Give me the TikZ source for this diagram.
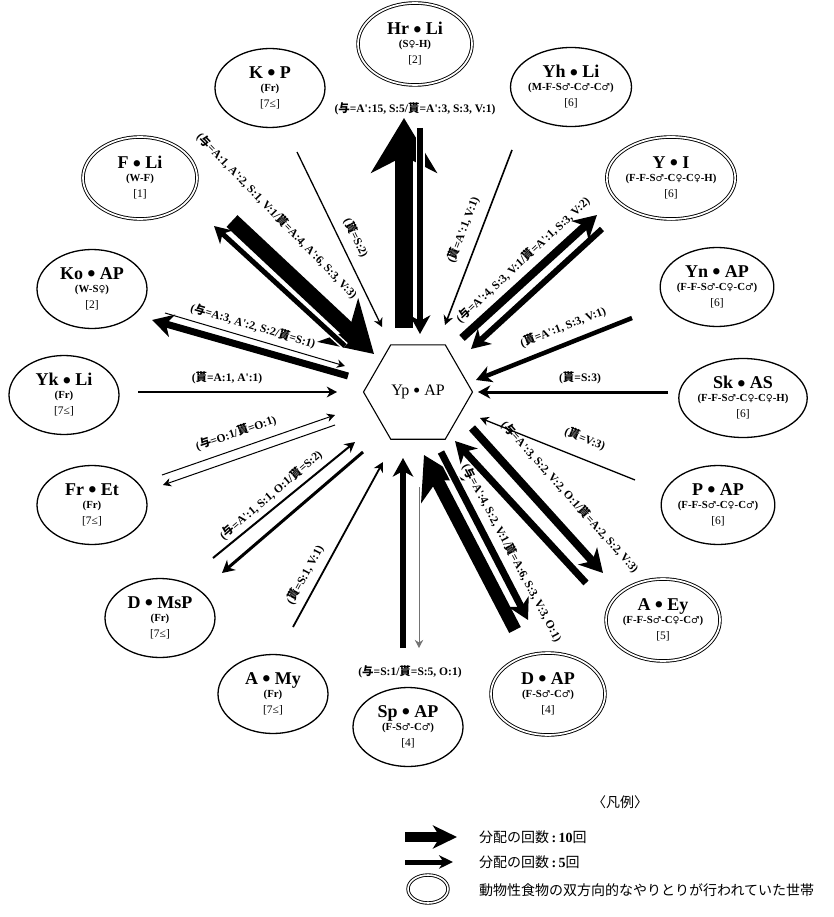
\documentclass[tikz,border=0pt]{standalone}
\usepackage{fontspec}
\setmainfont{Liberation Serif}
\newfontfamily\jpfont{Noto Sans CJK JP}
\newfontfamily\symfont{DejaVu Sans}
\usetikzlibrary{shapes.geometric,arrows.meta}
\newcommand{\yoc}{{\jpfont 与}}
\newcommand{\mrc}{{\jpfont 貰}}
\newcommand{\qq}{\textquotesingle}
\newcommand{\malesym}{{\symfont\mdseries\fontsize{9.5}{9}\selectfont ♂}}
\newcommand{\femsym}{{\symfont\mdseries\fontsize{9.5}{9}\selectfont ♀}}
\newcommand{\dotsep}{\hspace{0.24em}\raisebox{-0.12em}{\scalebox{1.3}{•}}\hspace{0.24em}}
\newcommand{\hhtext}[3]{{\fontsize{18}{18}\selectfont\bfseries #1}\\[1pt]{\fontsize{10.8}{10}\selectfont\bfseries #2}\\[4pt]{\fontsize{11.5}{11.5}\selectfont #3}}
\begin{document}
\begin{tikzpicture}[x=1pt,y=-1pt,
  hhold/.style={ellipse, draw, line width=1.3pt, minimum width=110pt, minimum height=79pt, inner sep=0pt, align=center, font=\fontsize{10}{12}\selectfont},
  hholdd/.style={hhold, double, double distance=1.7pt, line width=0.9pt, minimum width=114pt, minimum height=82pt},
  hexa/.style={regular polygon, regular polygon sides=6, draw, line width=1.1pt, minimum size=109pt, inner sep=0pt, font=\fontsize{16}{16}\selectfont},
  arr/.style={line width=#1pt, -{Stealth[length=6pt 2.1, width=6pt 2.4, inset=2pt 0.6]}},
  bigarr/.style={line width=#1pt, -{Stealth[length=6pt 2.7, width=6pt 3.3, inset=2pt 0.8]}},
  legarr/.style={line width=#1pt, -{Stealth[length=4pt 2.0, width=4pt 1.9, inset=2pt 0.5]}},
  halo/.style={preaction={draw=white, line width=#1pt, arrows=-}},
  lab/.style={font=\fontsize{11.5}{13}\selectfont\bfseries, inner sep=1pt},
  legtext/.style={anchor=west, font=\fontsize{14}{14}\selectfont, inner sep=0pt}
]
\useasboundingbox (0,0) rectangle (833,917);

% ---------- households ----------
\node[hholdd] (hrli) at (415,44) {\hhtext{Hr\dotsep Li}{(S\femsym-H)}{[2]}};
\node[hhold] (kp) at (270,88) {\hhtext{K\dotsep P}{(Fr)}{[7≤]}};
\node[hhold] (yhli) at (571,87) {\hhtext{Yh\dotsep Li}{(M-F-S\malesym-C\malesym-C\malesym)}{[6]}};
\node[hholdd] (yi) at (671,178) {\hhtext{Y\dotsep I}{(F-F-S\malesym-C\femsym-C\femsym-H)}{[6]}};
\node[hholdd] (fli) at (140,178) {\hhtext{F\dotsep Li}{(W-F)}{[1]}};
\node[hhold] (koap) at (92,289) {\hhtext{Ko\dotsep AP}{(W-S\femsym)}{[2]}};
\node[hhold] (ynap) at (717,287) {\hhtext{Yn\dotsep AP}{(F-F-S\malesym-C\femsym-C\malesym)}{[6]}};
\node[hhold] (ykli) at (64,395) {\hhtext{Yk\dotsep Li}{(Fr)}{[7≤]}};
\node[hhold] (skas) at (743,398) {\hhtext{Sk\dotsep AS}{(F-F-S\malesym-C\femsym-C\femsym-H)}{[6]}};
\node[hhold] (fret) at (92,505) {\hhtext{Fr\dotsep Et}{(Fr)}{[7≤]}};
\node[hhold] (pap) at (718,505) {\hhtext{P\dotsep AP}{(F-F-S\malesym-C\femsym-C\malesym)}{[6]}};
\node[hholdd] (aey) at (663,620) {\hhtext{A\dotsep Ey}{(F-F-S\malesym-C\femsym-C\malesym)}{[5]}};
\node[hhold] (dmsp) at (160,618) {\hhtext{D\dotsep MsP}{(Fr)}{[7≤]}};
\node[hhold] (amy) at (273,694) {\hhtext{A\dotsep My}{(Fr)}{[7≤]}};
\node[hhold] (spap) at (408,727) {\hhtext{Sp\dotsep AP}{(F-S\malesym-C\malesym)}{[4]}};
\node[hholdd] (dap) at (548,694) {\hhtext{D\dotsep AP}{(F-S\malesym-C\malesym)}{[4]}};

\node[hexa] (yp) at (418,392) {Yp\dotsep AP};

% ---------- arrow end points ----------
\coordinate (hrGs) at (404,328); \coordinate (hrGe) at (404,118);
\coordinate (hrRs) at (420,128); \coordinate (hrRe) at (420,334);
\coordinate (kpRs) at (297,152); \coordinate (kpRe) at (382,327);
\coordinate (yhRs) at (512,150); \coordinate (yhRe) at (445,325);
\coordinate (yiGs) at (462,338); \coordinate (yiGe) at (597,215);
\coordinate (yiRs) at (602,229); \coordinate (yiRe) at (471,349);
\coordinate (ynRs) at (632,318); \coordinate (ynRe) at (476,380);
\coordinate (skRs) at (668,392); \coordinate (skRe) at (478,392);
\coordinate (pRs) at (635,480); \coordinate (pRe) at (480,418);
\coordinate (aeGs) at (472,428); \coordinate (aeGe) at (603,573);
\coordinate (aeRs) at (586,583); \coordinate (aeRe) at (455,441);
\coordinate (daRs) at (515,630); \coordinate (daRe) at (424,455);
\coordinate (daGs) at (441,452); \coordinate (daGe) at (528,620);
\coordinate (spRs) at (403,648); \coordinate (spRe) at (403,458);
\coordinate (spGs) at (419,487); \coordinate (spGe) at (419,648);
\coordinate (amRs) at (293,627); \coordinate (amRe) at (383,462);
\coordinate (dmGs) at (363,452); \coordinate (dmGe) at (222,573);
\coordinate (dmRs) at (213,558); \coordinate (dmRe) at (355,442);
\coordinate (frRs) at (162,475); \coordinate (frRe) at (335,415);
\coordinate (frGs) at (335,425); \coordinate (frGe) at (163,485);
\coordinate (ykRs) at (138,392); \coordinate (ykRe) at (337,392);
\coordinate (koGs) at (348,376); \coordinate (koGe) at (152,320);
\coordinate (koRs) at (165,313); \coordinate (koRe) at (345,366);
\coordinate (flRs) at (232,221); \coordinate (flRe) at (374,354);
\coordinate (flGs) at (345,346); \coordinate (flGe) at (214,226);

% ---------- arrows ----------
\draw[bigarr=18] (hrGs) -- (hrGe);
\draw[arr=6, halo=9] (hrRs) -- (hrRe);
\draw[arr=1.3] (kpRs) -- (kpRe);
\draw[arr=1.6] (yhRs) -- (yhRe);
\draw[arr=8] (yiGs) -- (yiGe);
\draw[arr=6] (yiRs) -- (yiRe);
\draw[arr=4.5] (ynRs) -- (ynRe);
\draw[arr=3] (skRs) -- (skRe);
\draw[arr=1.3] (pRs) -- (pRe);
\draw[arr=8] (aeGs) -- (aeGe);
\draw[arr=7] (aeRs) -- (aeRe);
\draw[bigarr=13] (daRs) -- (daRe);
\draw[arr=7, halo=10] (daGs) -- (daGe);
\draw[arr=6] (spRs) -- (spRe);
\draw[arr=1, draw=black!55, fill=black!55] (spGs) -- (spGe);
\draw[arr=1.8] (amRs) -- (amRe);
\draw[arr=3] (dmGs) -- (dmGe);
\draw[arr=2] (dmRs) -- (dmRe);
\draw[arr=1] (frRs) -- (frRe);
\draw[arr=1] (frGs) -- (frGe);
\draw[arr=2] (ykRs) -- (ykRe);
\draw[arr=7] (koGs) -- (koGe);
\draw[arr=1] (koRs) -- (koRe);
\draw[bigarr=16] (flRs) -- (flRe);
\draw[arr=5, halo=8] (flGs) -- (flGe);

% ---------- labels ----------
\node[lab] (lhr) at (415,109) {(\yoc=A\qq:15, S:5/\mrc=A\qq:3, S:3, V:1)};
\node[lab, rotate=-64] (lkp) at (356,238) {(\mrc=S:2)};
\node[lab, rotate=69] (lyh) at (463,230) {(\mrc=A\qq:1, V:1)};
\node[lab, rotate=43] (lyi) at (523,260) {(\yoc=A\qq:4, S:3, V:1/\mrc=A\qq:1, S:3, V:2)};
\node[lab, rotate=21.7] (lyn) at (563,327) {(\mrc=A\qq:1, S:3, V:1)};
\node[lab] (lsk) at (580,378) {(\mrc=S:3)};
\node[lab, rotate=-22] (lp) at (585,439) {(\mrc=V:3)};
\node[lab, rotate=-48] (lae) at (570,497) {(\yoc=A\qq:3, S:2, V:2, O:1/\mrc=A:2, S:2, V:3)};
\node[lab, rotate=-62] (lda) at (512,553) {(\yoc=A\qq:4, S:2, V:1/\mrc=A:6, S:3, V:3, O:1)};
\node[lab] (lsp) at (410,672) {(\yoc=S:1/\mrc=S:5, O:1)};
\node[lab, rotate=61.5] (lam) at (305,575) {(\mrc=S:1, V:1)};
\node[lab, rotate=40.5] (ldm) at (271,495) {(\yoc=A\qq:1, S:1, O:1/\mrc=S:2)};
\node[lab, rotate=19] (lfr) at (236,433) {(\yoc=O:1/\mrc=O:1)};
\node[lab] (lyk) at (227,378) {(\mrc=A:1, A\qq:1)};
\node[lab, rotate=-16.5] (lko) at (253,326) {(\yoc=A:3, A\qq:2, S:2/\mrc=S:1)};
\node[lab, rotate=-46] (lfl) at (277,216) {(\yoc=A:1, A\qq:2, S:1, V:1/\mrc=A:4, A\qq:6, S:3, V:3)};

% ---------- legend ----------
\node[font=\fontsize{14}{14}\selectfont\jpfont] (legtitle) at (620,802) {〈凡例〉};
\coordinate (lg1s) at (405,837); \coordinate (lg1e) at (457,837);
\coordinate (lg2s) at (405,862); \coordinate (lg2e) at (453,862);
\draw[legarr=10] (lg1s) -- (lg1e);
\draw[legarr=5] (lg2s) -- (lg2e);
\node[draw, ellipse, double, double distance=1.6pt, line width=0.9pt, minimum width=40pt, minimum height=28pt] (lgell) at (428,889) {};
\node[legtext] (lgt1) at (479,837) {{\jpfont 分配の回数}\,\textbf{:\,10}{\jpfont 回}};
\node[legtext] (lgt2) at (479,862) {{\jpfont 分配の回数}\,\textbf{:\,5}{\jpfont 回}};
\node[legtext] (lgt3) at (479,890) {{\jpfont 動物性食物の双方向的なやりとりが行われていた世帯}};
\end{tikzpicture}
\end{document}
